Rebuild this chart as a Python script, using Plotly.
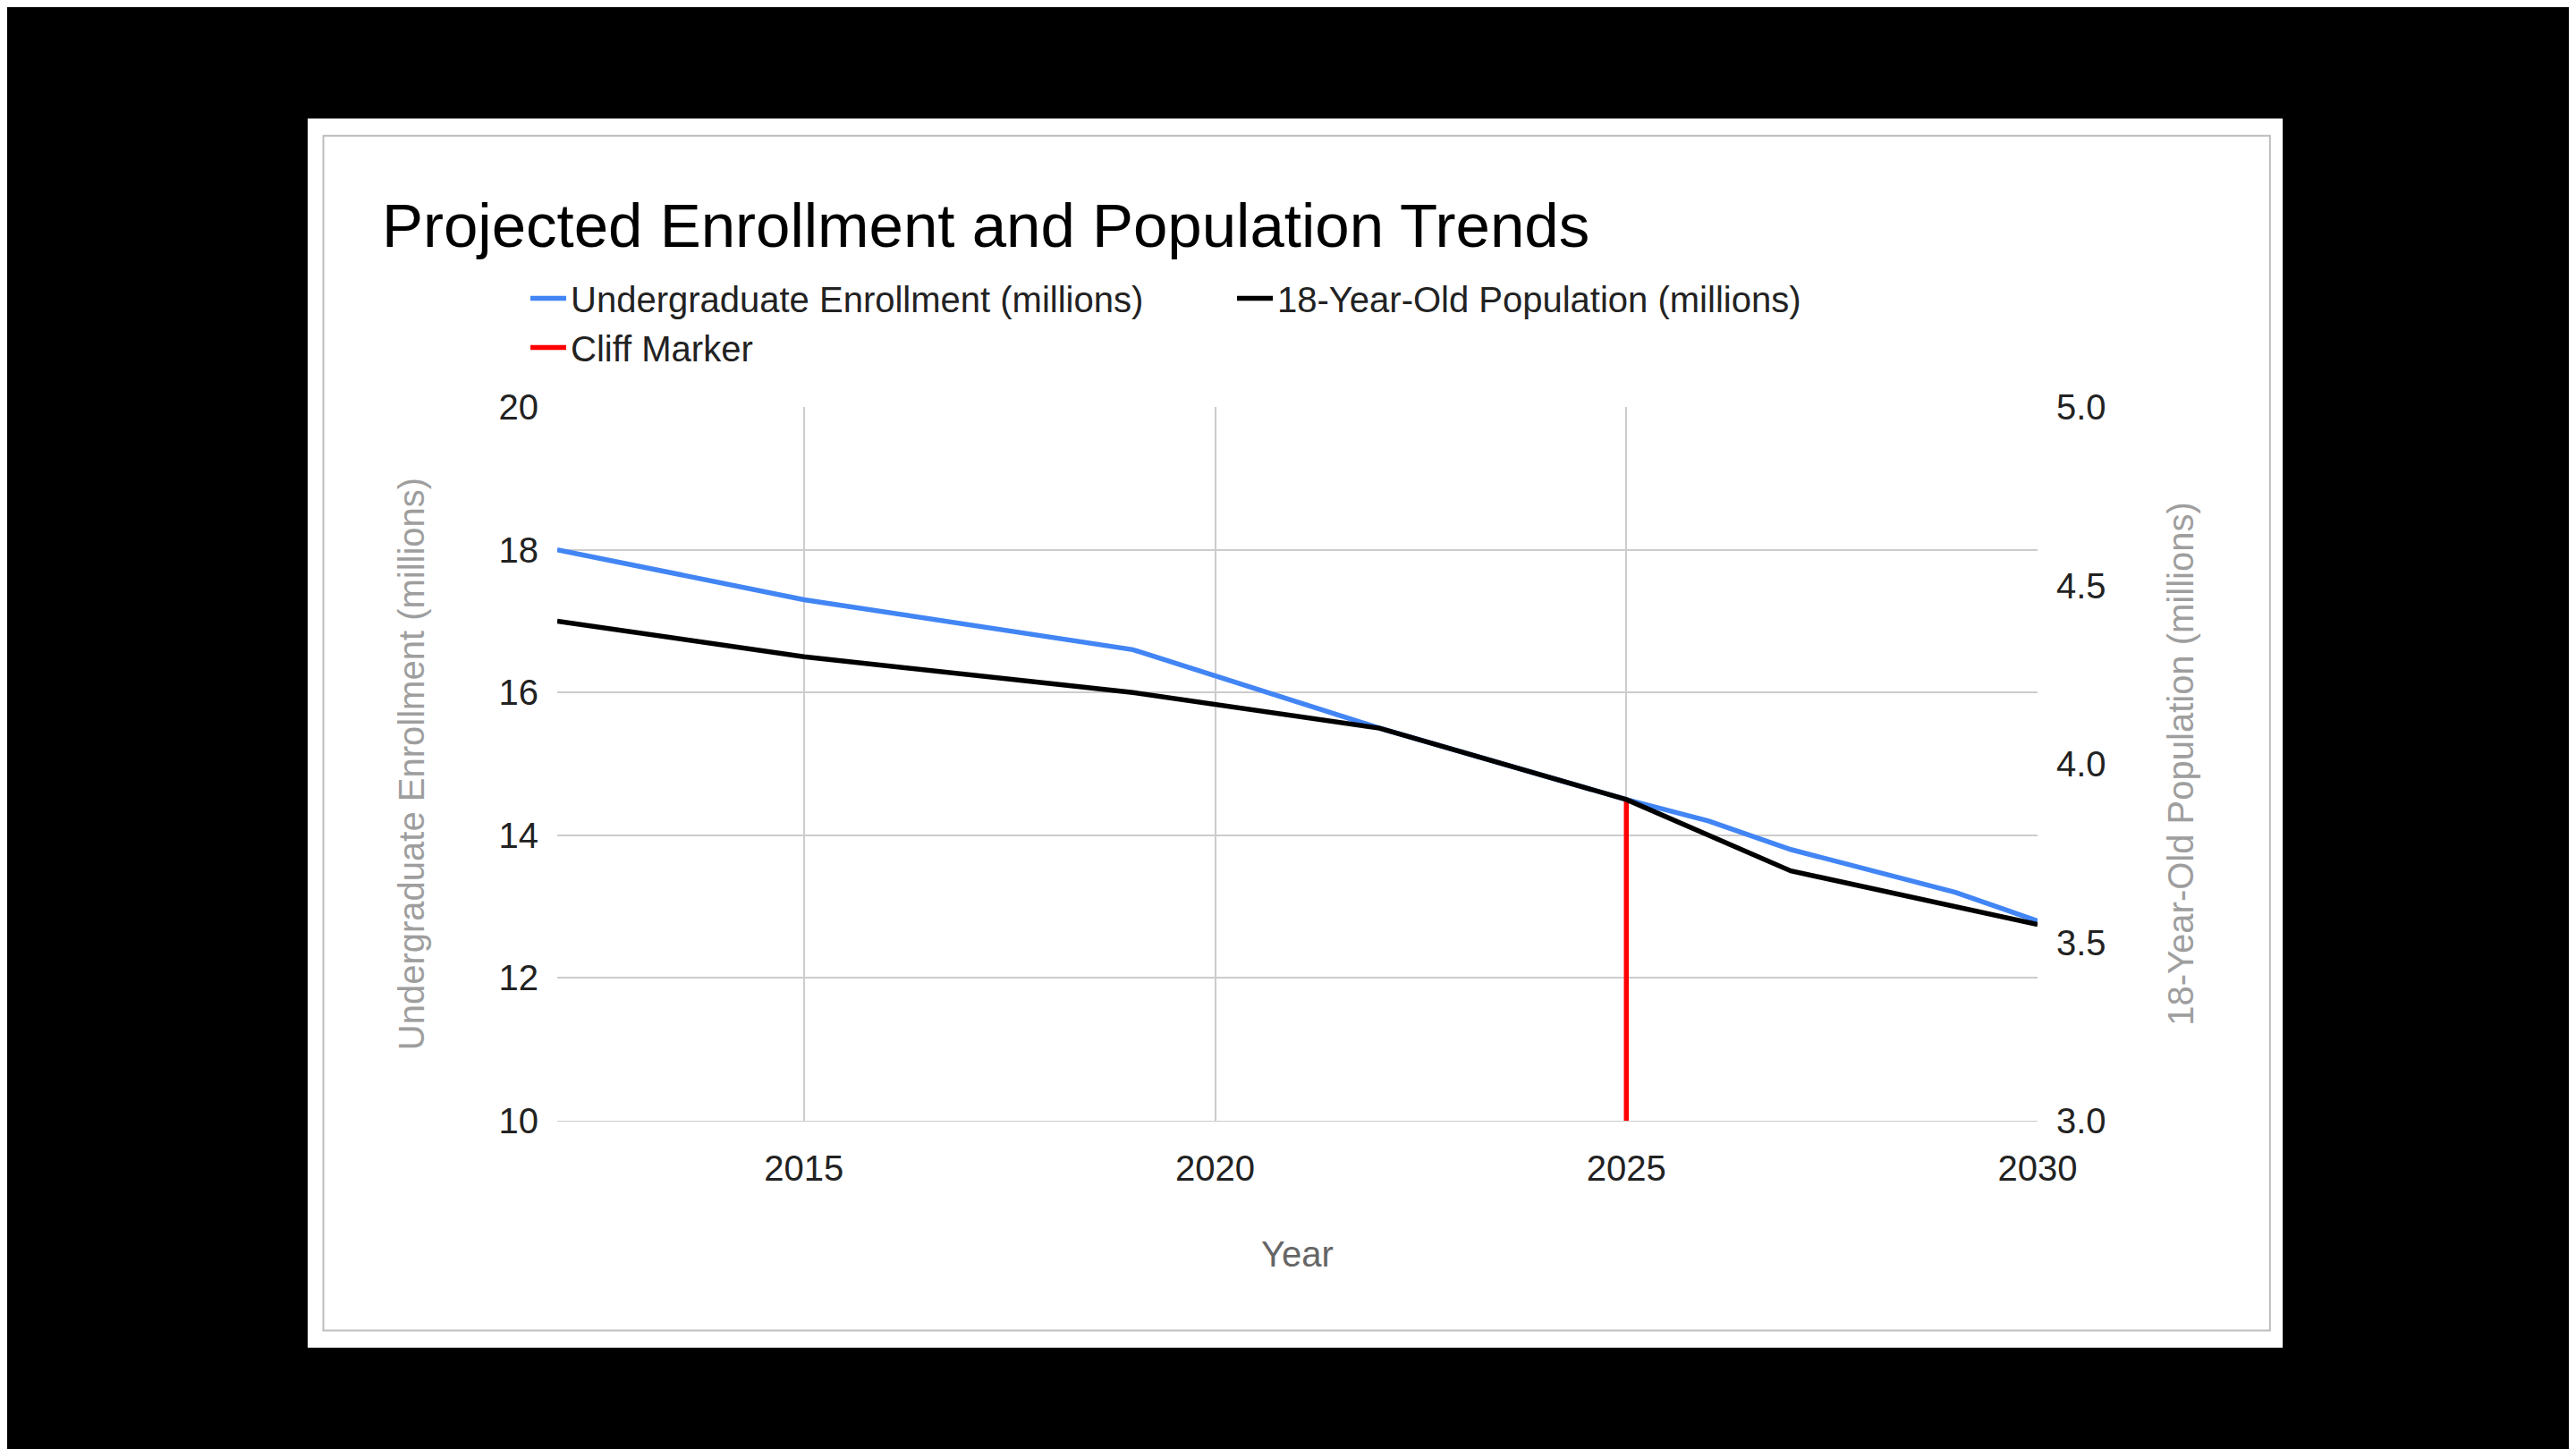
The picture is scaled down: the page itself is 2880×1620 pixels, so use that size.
import plotly.graph_objects as go

# data
enroll_years = [2012, 2015, 2019, 2022, 2025, 2026, 2027, 2029, 2030]
enroll_vals = [18.0, 17.3, 16.6, 15.5, 14.5, 14.2, 13.8, 13.2, 12.8]
pop_years = [2012, 2015, 2019, 2022, 2025, 2027, 2030]
pop_vals = [4.4, 4.3, 4.2, 4.1, 3.9, 3.7, 3.55]
cliff_years = [2025, 2025]
cliff_vals = [10, 14.5]

FONT = "Liberation Sans, Arial, sans-serif"
GREY = "#9e9e9e"

fig = go.Figure()
fig.add_trace(go.Scatter(x=enroll_years, y=enroll_vals, name="Undergraduate Enrollment (millions)",
                         mode="lines", line=dict(color="#4285f4", width=5.5)))
fig.add_trace(go.Scatter(x=pop_years, y=pop_vals, name="18-Year-Old Population (millions)",
                         mode="lines", line=dict(color="#000000", width=5.5), yaxis="y2"))
fig.add_trace(go.Scatter(x=cliff_years, y=cliff_vals, name="Cliff Marker",
                         mode="lines", line=dict(color="#ff0000", width=5.5)))

fig.update_layout(
    width=2880, height=1620,
    paper_bgcolor="black", plot_bgcolor="white",
    margin=dict(l=615, r=610, t=443, b=375),
    font=dict(family=FONT, size=40, color="#222"),
    title=dict(text="Projected Enrollment and Population Trends", x=419/2880, xanchor="left",
               y=1-244/1620, yanchor="middle", font=dict(size=69, color="black")),
    legend=dict(orientation="h", x=580/2880, xref="container", y=1-353/1620, yref="container",
                xanchor="left", yanchor="middle", font=dict(size=40, color="#222"),
                entrywidth=735, entrywidthmode="pixels", itemwidth=40,
                bgcolor="rgba(0,0,0,0)"),
    xaxis=dict(range=[2012, 2030], tickvals=[2015, 2020, 2025, 2030], showgrid=True,
               gridcolor="#cccccc", gridwidth=2, zeroline=False, showline=True, linecolor="#cccccc",
               ticks="", ticklabelstandoff=18,
               title=dict(text="Year", standoff=60, font=dict(color="#666", size=40))),
    yaxis=dict(range=[10, 20], dtick=2, gridcolor="#cccccc", gridwidth=2, zeroline=False, ticks="",
               ticklabelstandoff=20,
               title=dict(text="Undergraduate Enrollment (millions)", standoff=70,
                          font=dict(color=GREY, size=40))),
    yaxis2=dict(range=[3.0, 5.0], dtick=0.5, tickformat=".1f", overlaying="y", side="right",
                showgrid=False, zeroline=False, ticks="", ticklabelstandoff=20,
                title=dict(text="18-Year-Old Population (millions)", standoff=70,
                           font=dict(color=GREY, size=40))),
    shapes=[
        dict(type="rect", xref="paper", yref="paper", x0=-0.1686, x1=1.1656, y0=-0.318, y1=1.404,
             fillcolor="white", line=dict(width=0), layer="below"),
        dict(type="rect", xref="paper", yref="paper", x0=-0.158, x1=1.157, y0=-0.294, y1=1.380,
             fillcolor="rgba(0,0,0,0)", line=dict(color="#bdbdbd", width=2), layer="below"),
    ],
)

fig.write_html("out.html")
